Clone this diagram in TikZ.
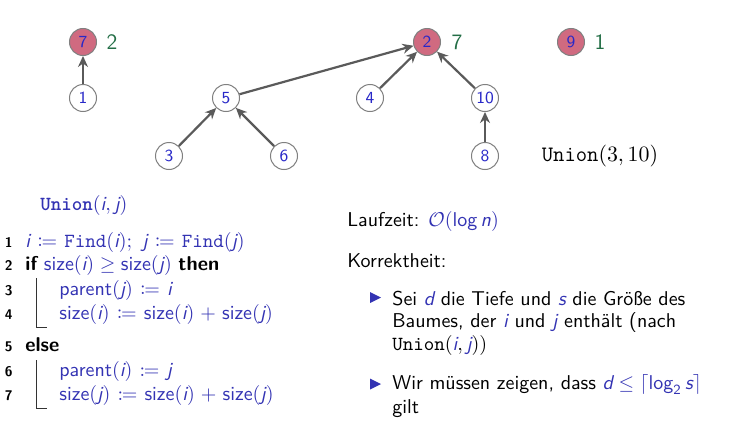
\documentclass[tikz,border=0pt]{standalone}
\usepackage{mathtools}
\usetikzlibrary{arrows.meta}
\definecolor{nodeblue}{RGB}{40,40,200}
\definecolor{struct}{RGB}{51,51,179}
\definecolor{rootfill}{RGB}{208,106,128}
\definecolor{sizegreen}{RGB}{35,110,70}
\definecolor{edgegray}{RGB}{90,90,90}
\newcommand\vv[1]{\mbox{\sffamily\itshape #1}}
\newcommand\vs[1]{\mbox{\sffamily #1}}
\newcommand\defeq{\mkern1.5mu\coloneqq\mkern1.5mu}
\newcommand\plusop{\mkern1.5mu+\mkern1.5mu}
\begin{document}
\begin{tikzpicture}[x=0.5pt,y=-0.5pt,
  vert/.style={circle,draw=gray,line width=0.5pt,fill=white,minimum size=13.5pt,inner sep=0pt,font=\sffamily\fontsize{8.5}{10}\selectfont,text=nodeblue},
  rootv/.style={vert,fill=rootfill},
  szlab/.style={font=\fontsize{11}{13}\sffamily,text=sizegreen,inner sep=0pt},
  link/.style={draw=edgegray,line width=1.1pt,-{Stealth[length=5.5pt,width=5pt]}},
  txt/.style={anchor=base west,inner sep=0pt,font=\fontsize{10}{12}\sffamily},
  algo/.style={txt,text=struct},
  lno/.style={anchor=base east,inner sep=0pt,font=\scriptsize\sffamily\bfseries},
  bar/.style={draw=black!80,line width=0.5pt}]
\useasboundingbox (0,0) rectangle (729,439);
% trees
\node[rootv] (n7) at (83,42) {7};
\node[vert] (n1) at (83,98) {1};
\node[vert] (n5) at (226,98) {5};
\node[vert] (n3) at (169,156) {3};
\node[vert] (n6) at (284,156) {6};
\node[rootv] (n2) at (427,42) {2};
\node[vert] (n4) at (370,98) {4};
\node[vert] (n10) at (485,98) {10};
\node[vert] (n8) at (485,156) {8};
\node[rootv] (n9) at (571,42) {9};
\node[szlab] (s7) at (112,42) {2};
\node[szlab] (s2) at (457,42) {7};
\node[szlab] (s9) at (600,42) {1};
\node[inner sep=0pt,font=\fontsize{11}{13}\selectfont] (op) at (600,156) {\texttt{Union}$(3,10)$};
\draw[link] (n1) -- (n7);
\draw[link] (n3) -- (n5);
\draw[link] (n6) -- (n5);
\draw[link] (n5) -- (n2);
\draw[link] (n4) -- (n2);
\draw[link] (n10) -- (n2);
\draw[link] (n8) -- (n10);
% algorithm
\node[algo] (hdr) at (40,210) {\texttt{\bfseries Union}$(\vv{i},\vv{j})$};
\node[lno] (l1) at (13,247) {1};
\node[algo] (a1) at (25,247) {$\vv{i} \defeq \texttt{Find}(\vv{i});\ \vv{j} \defeq \texttt{Find}(\vv{j})$};
\node[lno] (l2) at (13,270.7) {2};
\node[algo] (a2) at (25,270.7) {{\color{black}\bfseries if} $\vs{size}(\vv{i}) \geq \vs{size}(\vv{j})$ {\color{black}\bfseries then}};
\node[lno] (l3) at (13,295) {3};
\node[algo] (a3) at (59,295) {$\vs{parent}(\vv{j}) \defeq \vv{i}$};
\node[lno] (l4) at (13,319) {4};
\node[algo] (a4) at (59,319) {$\vs{size}(\vv{i}) \defeq \vs{size}(\vv{i}) \plusop \vs{size}(\vv{j})$};
\node[lno] (l5) at (13,351.7) {5};
\node[algo] (a5) at (25,351.7) {{\color{black}\bfseries else}};
\node[lno] (l6) at (13,376.7) {6};
\node[algo] (a6) at (59,376.7) {$\vs{parent}(\vv{i}) \defeq \vv{j}$};
\node[lno] (l7) at (13,400.7) {7};
\node[algo] (a7) at (59,400.7) {$\vs{size}(\vv{j}) \defeq \vs{size}(\vv{i}) \plusop \vs{size}(\vv{j})$};
\draw[bar] (36,278) -- (36,327) -- (47,327);
\draw[bar] (36,360) -- (36,408) -- (47,408);
% right column
\node[txt] (lz) at (347,226) {Laufzeit: {\color{struct}$\mathcal{O}(\vs{log}\,\vv{n})$}};
\node[txt] (kt) at (347,267) {Korrektheit:};
\fill[struct] (370,292) -- (381,297.5) -- (370,303) -- cycle;
\node[txt] (b1a) at (392,305) {Sei {\color{struct}\vv{d}} die Tiefe und {\color{struct}\vv{s}} die Größe des};
\node[txt] (b1b) at (392,327.5) {Baumes, der {\color{struct}\vv{i}} und {\color{struct}\vv{j}} enthält (nach};
\node[txt] (b1c) at (392,350) {\texttt{Union}$({\color{struct}\vv{i}},{\color{struct}\vv{j}}))$};
\fill[struct] (370,378.5) -- (381,384) -- (370,389.5) -- cycle;
\node[txt] (b2a) at (392,389) {Wir müssen zeigen, dass {\color{struct}$\vv{d} \leq \lceil \vs{log}_{\mbox{\sffamily\scriptsize 2}}\,\vv{s}\rceil$}};
\node[txt] (b2b) at (392,413) {gilt};
\end{tikzpicture}
\end{document}
